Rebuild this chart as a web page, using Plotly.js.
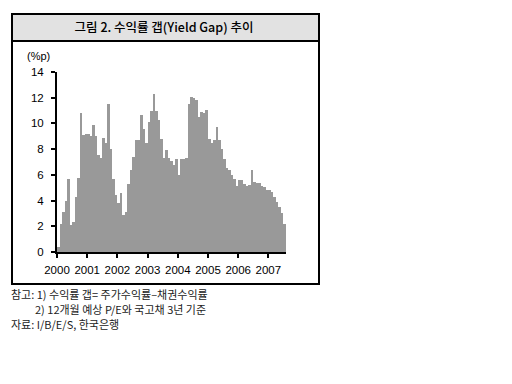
<!DOCTYPE html>
<html>
<head>
<meta charset="utf-8">
<script src="https://cdn.plot.ly/plotly-3.0.1.min.js"></script>
<style>html,body{margin:0;padding:0;background:#fff;}#chart{width:512px;height:384px;}</style>
</head>
<body>
<div id="chart"></div>
<script>
// ---- data (monthly, Jan 2000 - Jul 2007) ----
const startYear = 2000;
const startMonth = 1;
const yieldGap = [
  0.4, 2.15, 3.15, 3.95, 5.65, 2.1, 2.3, 4.3, 5.75, 10.8, 9.1, 9.2,
  9.2, 9.0, 9.85, 9.0, 7.55, 7.35, 8.85, 8.5, 11.55, 8.0, 5.7, 4.4,
  3.8, 4.6, 2.9, 3.1, 5.3, 6.4, 7.4, 8.7, 8.7, 10.65, 9.55, 8.5,
  10.1, 10.95, 12.3, 10.95, 10.25, 8.8, 7.35, 7.9, 7.3, 7.1, 6.75, 7.2,
  6.0, 7.2, 7.2, 7.3, 11.5, 12.05, 12.0, 11.8, 10.5, 10.9, 10.8, 11.05,
  8.8, 8.5, 8.7, 9.7, 8.7, 8.0, 7.2, 6.5, 6.4, 6.0, 5.7, 5.1,
  5.6, 5.6, 5.3, 5.15, 5.2, 6.35, 5.45, 5.4, 5.4, 5.1, 5.05, 4.85,
  4.8, 4.7, 4.3, 3.9, 3.5, 3.0, 2.2
];
const yearTicks = [2000, 2001, 2002, 2003, 2004, 2005, 2006, 2007];
const yTicks = [0, 2, 4, 6, 8, 10, 12, 14];
const titleText = '그림 2. 수익률 갭(Yield Gap) 추이';
const unitText = '(%p)';
const notes = [
  '참고: 1) 수익률 갭= 주가수익률–채권수익률',
  '2) 12개월 예상 P/E와 국고채 3년 기준',
  '자료: I/B/E/S, 한국은행'
];

// month categories -> position on a year scale (centre of each month)
const months = yieldGap.map((_, i) => {
  const m = startMonth - 1 + i;
  return { y: startYear + Math.floor(m / 12), m: (m % 12) + 1 };
});
const xPos = months.map(d => d.y + (d.m - 1) / 12 + 1 / 24);
const xEnd = months[months.length - 1].y + months[months.length - 1].m / 12;

// ---- layout geometry (pixels) ----
const W = 512, H = 384;
const M = { l: 57, r: 226, t: 72, b: 132 };
const PW = W - M.l - M.r, PH = H - M.t - M.b;
const px = x => (x - M.l) / PW;
const py = y => (H - M.b - y) / PH;

const trace = {
  type: 'bar',
  x: xPos,
  y: yieldGap,
  width: 1 / 12,
  marker: { color: '#999999', line: { width: 0 } },
  hoverinfo: 'skip'
};

const tickFont = { family: 'Liberation Sans Narrow, Arial Narrow, sans-serif', size: 11.5, color: '#000' };
const noteFont = { family: 'Noto Sans CJK KR, sans-serif', size: 11, color: '#222' };

const layout = {
  width: W, height: H,
  margin: M,
  paper_bgcolor: '#ffffff',
  plot_bgcolor: '#ffffff',
  showlegend: false,
  bargap: 0,
  title: {
    text: titleText,
    xref: 'container', yref: 'container',
    x: 164 / W, y: 1 - 28 / H,
    xanchor: 'center', yanchor: 'middle',
    font: { family: 'Noto Sans CJK KR, sans-serif', size: 12.5, color: '#000', weight: 500 }
  },
  xaxis: {
    range: [startYear, xEnd],
    tickvals: yearTicks,
    ticktext: yearTicks.map(String),
    ticks: 'outside', ticklen: 4, tickwidth: 2, tickcolor: '#000',
    showline: true, linewidth: 2, linecolor: '#000',
    showgrid: false, zeroline: false,
    tickfont: tickFont,
    ticklabelstandoff: 2,
    fixedrange: true
  },
  yaxis: {
    range: [0, 14],
    tickvals: yTicks,
    ticks: 'outside', ticklen: 4, tickwidth: 2, tickcolor: '#000',
    showline: true, linewidth: 2, linecolor: '#000',
    showgrid: false, zeroline: false,
    tickfont: tickFont,
    ticklabelstandoff: 5,
    fixedrange: true
  },
  shapes: [
    { type: 'rect', xref: 'paper', yref: 'paper', layer: 'below',
      x0: px(12), x1: px(319), y0: py(14), y1: py(41),
      fillcolor: '#e2e2e2', line: { width: 0 } },
    { type: 'line', xref: 'paper', yref: 'paper',
      x0: px(12), x1: px(319), y0: py(41), y1: py(41),
      line: { color: '#000', width: 2 } },
    { type: 'rect', xref: 'paper', yref: 'paper',
      x0: px(12), x1: px(319), y0: py(14), y1: py(284),
      line: { color: '#000', width: 2 } }
  ],
  annotations: [
    { text: unitText, xref: 'paper', yref: 'paper', x: px(25), y: py(56),
      xanchor: 'left', yanchor: 'middle', showarrow: false,
      font: { family: 'Liberation Sans, Arial, sans-serif', size: 11, color: '#000' } },
    { text: notes[0], xref: 'paper', yref: 'paper', x: px(9), y: py(294),
      xanchor: 'left', yanchor: 'middle', showarrow: false, font: noteFont },
    { text: notes[1], xref: 'paper', yref: 'paper', x: px(33), y: py(309),
      xanchor: 'left', yanchor: 'middle', showarrow: false, font: noteFont },
    { text: notes[2], xref: 'paper', yref: 'paper', x: px(9), y: py(324),
      xanchor: 'left', yanchor: 'middle', showarrow: false, font: noteFont }
  ]
};

Plotly.newPlot('chart', [trace], layout, { staticPlot: true, displayModeBar: false });
</script>
</body>
</html>
